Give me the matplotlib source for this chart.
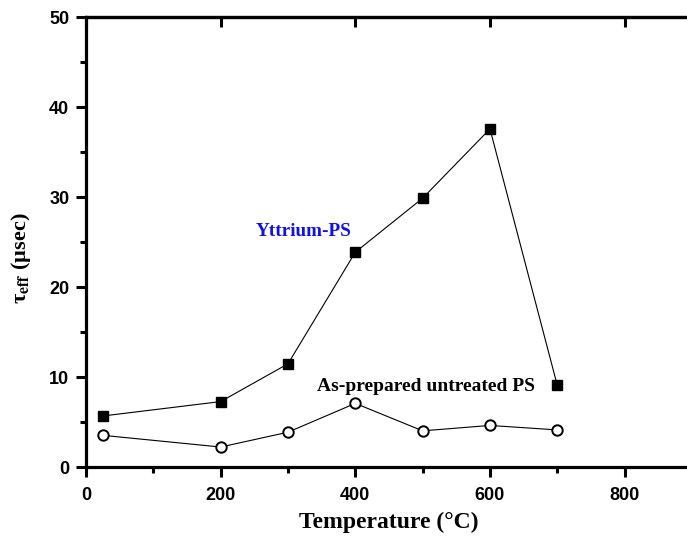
import matplotlib
matplotlib.use("Agg")
import matplotlib.pyplot as plt
from matplotlib.ticker import MultipleLocator

plt.rcParams["mathtext.fontset"] = "stix"

# annealing temperature (°C) and effective lifetime (µs)
temp = [25, 200, 300, 400, 500, 600, 700]
tau_yttrium = [5.7, 7.3, 11.5, 23.9, 29.9, 37.6, 9.1]
tau_untreated = [3.55, 2.25, 3.9, 7.1, 4.05, 4.65, 4.15]

serif = ["Liberation Serif", "DejaVu Serif"]
sans = ["Liberation Sans", "DejaVu Sans"]

fig = plt.figure(figsize=(6.87, 5.48), dpi=100)
ax = fig.add_axes([0.1252, 0.1473, 0.882, 0.8211])

ax.plot(temp, tau_yttrium, color="black", lw=0.8, marker="s", ms=7.5,
        mfc="black", mec="black")
ax.plot(temp, tau_untreated, color="black", lw=0.8, marker="o", ms=7.5,
        mfc="white", mec="black", mew=1.4)

ax.set_xlim(0, 900)
ax.set_ylim(0, 50)
ax.xaxis.set_major_locator(MultipleLocator(200))
ax.xaxis.set_minor_locator(MultipleLocator(100))
ax.yaxis.set_major_locator(MultipleLocator(10))
ax.yaxis.set_minor_locator(MultipleLocator(5))

for s in ax.spines.values():
    s.set_linewidth(2.3)
ax.tick_params(which="major", direction="out", length=7, width=2.2)
ax.tick_params(which="minor", direction="out", length=4.5, width=2.2)
ax.tick_params(labelsize=13)
ax.tick_params(axis="x", pad=7)
ax.tick_params(axis="y", pad=5)
for lbl in ax.get_xticklabels() + ax.get_yticklabels():
    lbl.set_family(sans)
    lbl.set_fontweight("bold")

# inward ticks along the top frame
top = ax.secondary_xaxis("top")
top.xaxis.set_major_locator(MultipleLocator(200))
top.tick_params(direction="in", length=7, width=2.2, labeltop=False)
top.spines["top"].set_linewidth(2.3)

ax.set_xlabel("Temperature (°C)", family=serif, fontsize=17, fontweight="bold",
              va="top")
ax.xaxis.set_label_coords(0.5, -0.1)
ax.set_ylabel(r"τ$_{\mathbf{eff}}$ (µsec)", family=serif, fontsize=16,
              fontweight="bold")
ax.yaxis.set_label_coords(-0.088, 0.465)

ax.text(324, 26.2, "Yttrium-PS", family=serif, fontsize=13.8, fontweight="bold",
        color="#1010ee", ha="center", va="center")
ax.text(505, 9.0, "As-prepared untreated PS", family=serif, fontsize=14,
        fontweight="bold", color="black", ha="center", va="center")

fig.savefig("out.png", dpi=100)
